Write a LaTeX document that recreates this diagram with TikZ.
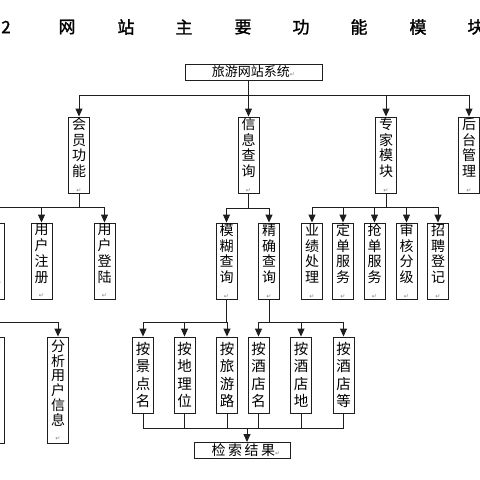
\documentclass[tikz,border=0pt]{standalone}
\usepackage{fontspec}
\usetikzlibrary{arrows.meta}
\newfontfamily\cjk{Noto Sans CJK SC}
\newfontfamily\cjkbold[FakeBold=1.5]{Noto Sans CJK SC}
\newfontfamily\dejavu{DejaVu Sans}
\newcommand\mk{{\dejavu\fontsize{6}{6}\selectfont\color{gray}↵}}
\definecolor{ln}{HTML}{1E1E1E}
\tikzset{
  box/.style={draw=ln, line width=0.9pt, inner sep=0pt, align=center, fill=white},
  vbox/.style={box, minimum width=21pt, minimum height=76pt,
     font=\cjk\fontsize{14}{15.8}\selectfont},
  vboxb/.style={box, minimum width=21pt, minimum height=76pt,
     font=\cjk\fontsize{14.5}{17.5}\selectfont},
  tall/.style={box, minimum width=21pt, minimum height=106pt,
     font=\cjk\fontsize{14}{14.8}\selectfont},
  hbox/.style={box, minimum height=16pt, font=\cjk\fontsize{13}{14}\selectfont},
  wire/.style={draw=ln, line width=0.9pt},
  arr/.style={wire, -{Triangle[width=7pt,length=8pt]}},
  ttl/.style={font=\cjkbold\fontsize{17}{17}\selectfont, inner sep=0pt}
}
\begin{document}
\begin{tikzpicture}[x=1pt, y=-1pt]
\useasboundingbox (0,0) rectangle (480,480);
\clip (0,0) rectangle (480,480);
\fill[white] (0,0) rectangle (480,480);
% title
\node[ttl] (t0) at (6,27) {2};
\node[ttl] (t1) at (67,27) {网};
\node[ttl] (t2) at (126,27) {站};
\node[ttl] (t3) at (184,27) {主};
\node[ttl] (t4) at (243,27) {要};
\node[ttl] (t5) at (301,27) {功};
\node[ttl] (t6) at (359,27) {能};
\node[ttl] (t7) at (418,27) {模};
\node[ttl] (t8) at (476,27) {块};
% root
\node[hbox, minimum width=137pt] (root) at (253.5,72) {旅游网站系统\mk};
% level 1
\node[vbox] (m1) at (79,155) {会\\员\\功\\能\\\mk};
\node[vbox] (m2) at (248.5,155) {信\\息\\查\\询\\\mk};
\node[vbox] (m3) at (386,155) {专\\家\\模\\块\\\mk};
\node[vbox] (m4) at (469,155) {后\\台\\管\\理\\\mk};
\coordinate (bus1) at (0,95);
\draw[wire] (m1.north |- bus1) -- (m4.north |- bus1);
\draw[arr] (m2.north |- root.south) -- (m2.north);
\foreach \n in {m1,m3,m4} \draw[arr] (\n.north |- bus1) -- (\n.north);
% level 2 under m1
\node[vbox] (a0) at (-6,261) {用\\户\\管\\理\\\mk};
\node[vbox] (a1) at (41.5,261) {用\\户\\注\\册\\\mk};
\node[vbox] (a2) at (104.5,261) {用\\户\\登\\陆\\\mk};
\coordinate (bus2) at (0,207);
\draw[wire] (m1.south) -- (m1.south |- bus2);
\draw[wire] (a0.north |- bus2) -- (a2.north |- bus2);
\foreach \n in {a0,a1,a2} \draw[arr] (\n.north |- bus2) -- (\n.north);
% level 3 under a0
\node[tall] (c0) at (-6,390) {查\\看\\用\\户\\信\\息\\\mk};
\node[tall] (c1) at (58,390) {分\\析\\用\\户\\信\\息\\\mk};
\coordinate (bus3) at (0,322);
\draw[wire] (a0.south) -- (a0.south |- bus3);
\draw[wire] (c0.north |- bus3) -- (c1.north |- bus3);
\foreach \n in {c0,c1} \draw[arr] (\n.north |- bus3) -- (\n.north);
% level 2 under m2
\node[vbox] (q1) at (226.5,261) {模\\糊\\查\\询\\\mk};
\node[vbox] (q2) at (269,261) {精\\确\\查\\询\\\mk};
\coordinate (bus4) at (0,208);
\draw[wire] (m2.south) -- (m2.south |- bus4);
\draw[wire] (q1.north |- bus4) -- (q2.north |- bus4);
\foreach \n in {q1,q2} \draw[arr] (\n.north |- bus4) -- (\n.north);
% level 2 under m3
\node[vbox] (e1) at (312,261) {业\\绩\\处\\理\\\mk};
\node[vbox] (e2) at (343,261) {定\\单\\服\\务\\\mk};
\node[vbox] (e3) at (374.5,261) {抢\\单\\服\\务\\\mk};
\node[vbox] (e4) at (406.5,261) {审\\核\\分\\级\\\mk};
\node[vbox] (e5) at (438,261) {招\\聘\\登\\记\\\mk};
\draw[wire] (m3.south) -- (m3.south |- bus2);
\draw[wire] (e1.north |- bus2) -- (e5.north |- bus2);
\foreach \n in {e1,e2,e3,e4,e5} \draw[arr] (\n.north |- bus2) -- (\n.north);
% level 3 under q1 / q2
\node[vboxb] (s1) at (143,375) {按\\景\\点\\名};
\node[vboxb] (s2) at (184.5,375) {按\\地\\理\\位};
\node[vboxb] (s3) at (227,375) {按\\旅\\游\\路};
\node[vboxb] (s4) at (258.5,375) {按\\酒\\店\\名};
\node[vboxb] (s5) at (301,375) {按\\酒\\店\\地};
\node[vboxb] (s6) at (343.5,375) {按\\酒\\店\\等};
\draw[wire] (q1.south) -- (q1.south |- bus3);
\draw[wire] (s1.north |- bus3) -- (s3.north |- bus3);
\foreach \n in {s1,s2,s3} \draw[arr] (\n.north |- bus3) -- (\n.north);
\draw[wire] (q2.south) -- (q2.south |- bus3);
\draw[wire] (s4.north |- bus3) -- (s6.north |- bus3);
\foreach \n in {s4,s5,s6} \draw[arr] (\n.north |- bus3) -- (\n.north);
% result
\node[hbox, minimum width=96pt, font=\cjk\fontsize{14}{14}\selectfont] (res) at (242,450.5) {\hspace*{8pt}检\hspace{2.5pt}索\hspace{2.5pt}结\hspace{2.5pt}果\mk};
\coordinate (bus5) at (247,428);
\foreach \n in {s1,s2,s3,s4,s5,s6} \draw[wire] (\n.south) -- (\n.south |- bus5);
\draw[wire] (s1.south |- bus5) -- (s6.south |- bus5);
\draw[arr] (bus5) -- (bus5 |- res.north);
\end{tikzpicture}
\end{document}
